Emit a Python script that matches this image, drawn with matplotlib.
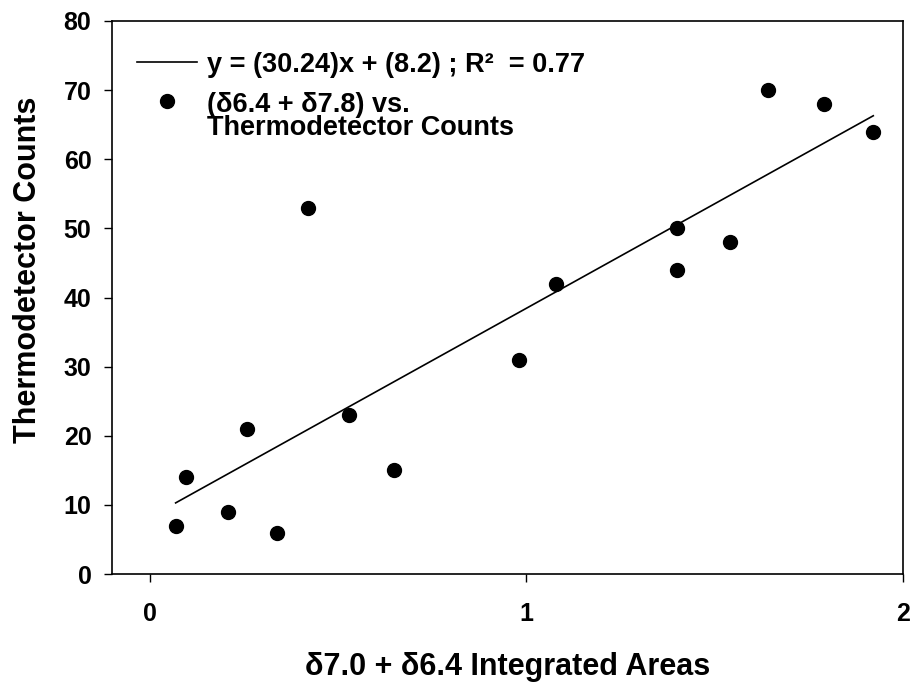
import numpy as np
import matplotlib
matplotlib.use('Agg')
import matplotlib.pyplot as plt

# integrated areas (d7.0 + d6.4) and thermodetector counts
areas = [0.069, 0.096, 0.209, 0.259, 0.339, 0.420, 0.529, 0.650,
         0.980, 1.080, 1.400, 1.400, 1.541, 1.641, 1.790, 1.921]
counts = [7, 14, 9, 21, 6, 53, 23, 15,
          31, 42, 50, 44, 48, 70, 68, 64]

# linear fit reported on the chart
slope = 30.24
intercept = 8.2
r2 = 0.77

x_ticks = [0, 1, 2]
y_ticks = [0, 10, 20, 30, 40, 50, 60, 70, 80]

plt.rcParams['font.family'] = ['Liberation Sans', 'DejaVu Sans']
plt.rcParams['font.weight'] = 'bold'

fig = plt.figure(figsize=(9.14, 6.84), dpi=100)
ax = fig.add_axes([0.1225, 0.1608, 0.8655, 0.8085])

xs = np.array([min(areas), max(areas)])
ax.plot(xs, slope * xs + intercept, color='black', lw=1.2,
        label='y = (%.2f)x + (%.1f) ; R\u00b2  = %.2f' % (slope, intercept, r2))
ax.plot(areas, counts, 'o', color='black', ms=10, ls='none',
        label='(\u03b46.4 + \u03b47.8) vs.\nThermodetector Counts')

ax.set_xlim(-0.1, 2.0)
ax.set_ylim(0, 80)
ax.set_xticks(x_ticks)
ax.set_yticks(y_ticks)
ax.tick_params(direction='out', length=5.8, width=1, labelsize=18)
ax.tick_params(axis='x', pad=14)
ax.tick_params(axis='y', pad=9)
for lab in ax.get_xticklabels() + ax.get_yticklabels():
    lab.set_fontweight('bold')
for s in ax.spines.values():
    s.set_linewidth(1.2)

ax.set_xlabel('\u03b47.0 + \u03b46.4 Integrated Areas', fontsize=22,
              fontweight='bold', labelpad=19)
ax.set_ylabel('Thermodetector Counts', fontsize=22, fontweight='bold',
              labelpad=15)
# label sits a bit above the middle in the original
ax.yaxis.label.set_y(0.55)

leg = ax.legend(loc='upper left', bbox_to_anchor=(0.0316, 0.944),
                frameon=False, handlelength=2.2, handletextpad=0.4,
                borderaxespad=0, borderpad=0, labelspacing=0.5,
                prop={'weight': 'bold', 'size': 19.5})
for t in leg.get_texts():
    t.set_linespacing(0.88)

# put the dot next to the first line of its two-line label
dot = leg.legend_handles[1]
dot.set_ydata(np.asarray(dot.get_ydata()) + 11.5)

fig.savefig('out.png', dpi=100)
